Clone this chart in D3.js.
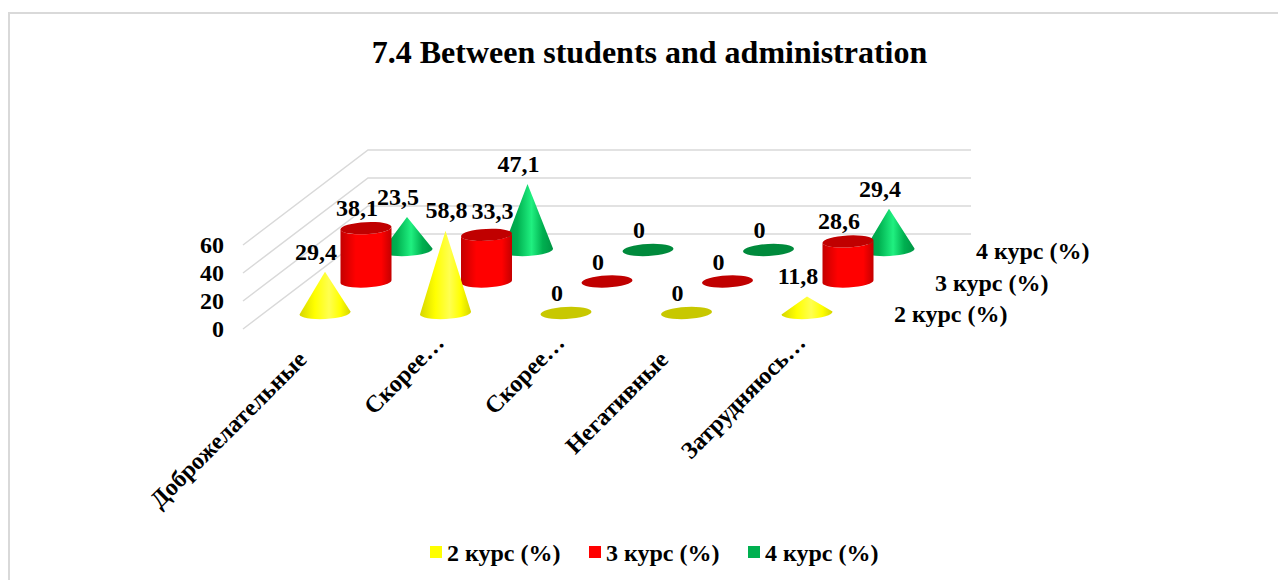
<!DOCTYPE html>
<html>
<head>
<meta charset="utf-8">
<script src="https://d3js.org/d3.v7.min.js"></script>
<style>
html, body { margin: 0; padding: 0; background: #fff; overflow: hidden; }
text { font-family: "Liberation Serif", "Times New Roman", serif; font-weight: bold; fill: #000; }
</style>
</head>
<body>
<svg id="chart" width="1278" height="580"></svg>
<script>
const categories = ['Доброжелательные', 'Скорее…', 'Скорее…', 'Негативные', 'Затрудняюсь…']
const seriesNames = ['2 курс (%)', '3 курс (%)', '4 курс (%)']
const course2 = [29.4, 58.8, 0, 0, 11.8]
const course3 = [38.1, 33.3, 0, 0, 28.6]
const course4 = [23.5, 47.1, 0, 0, 29.4]
const yTicks = [0, 20, 40, 60]

const svg = d3.select('#chart')
const defs = svg.append('defs')

// frame of the picture
svg.append('path')
    .attr('d', 'M9,580V13H1278')
    .attr('fill', 'none')
    .attr('stroke', '#d9d9d9')
    .attr('stroke-width', 2)

svg.append('text')
    .attr('x', 649.5)
    .attr('y', 63)
    .attr('text-anchor', 'middle')
    .style('font-size', '32px')
    .text('7.4 Between students and administration')

// fake 3d: x runs along the categories, the series go back along a diagonal
const xScale = d3.scalePoint().domain(d3.range(categories.length)).range([325, 807])
const depthX = d3.scalePoint().domain(seriesNames).range([0, 82])
const depthY = d3.scalePoint().domain(seriesNames).range([313, 250])
const heightScale = d3.scaleLinear().domain([0, 60]).range([0, 84])

// value axis at the front corner and the same scale on the back wall
const frontY = d3.scaleLinear().domain([0, 60]).range([329, 245])
const backY = d3.scaleLinear().domain([0, 60]).range([234, 150])

const grid = svg.append('g')
    .attr('fill', 'none')
    .attr('stroke', '#d9d9d9')
    .attr('stroke-width', 1.5)

yTicks.forEach(t => {
    grid.append('path')
        .attr('d', `M243,${frontY(t)}L368,${backY(t)}H971`)
})

svg.append('g')
    .attr('transform', 'translate(224,0)')
    .call(d3.axisLeft(frontY).tickValues(yTicks).tickSize(0).tickPadding(0))
    .call(g => g.select('.domain').remove())
    .selectAll('text')
    .attr('dy', '0.32em')
    .style('font-size', '24px')

const palette = [
    { edge: '#d6d600', mid: '#ffff00', shine: '#ffff50', flat: '#c8c800' },
    { edge: '#c40000', mid: '#ff0000', shine: '#ff0000', flat: '#c00000' },
    { edge: '#009444', mid: '#00b050', shine: '#20f080', flat: '#008a3c' }
]

palette.forEach((c, i) => {
    const grad = defs.append('linearGradient').attr('id', 'grad' + i)
    grad.append('stop').attr('offset', '0%').attr('stop-color', c.edge)
    grad.append('stop').attr('offset', '30%').attr('stop-color', c.mid)
    grad.append('stop').attr('offset', '58%').attr('stop-color', c.shine)
    grad.append('stop').attr('offset', '80%').attr('stop-color', c.mid)
    grad.append('stop').attr('offset', '100%').attr('stop-color', c.edge)
})

const rx = 25.5
const ry = 6
const tilt = 1.4

const conePath = (cx, cy, h) =>
    `M${cx - rx},${cy + tilt}A${rx},${ry} -3 0 0 ${cx + rx},${cy - tilt}L${cx},${cy - h}Z`

const cylinderPath = (cx, cy, h) =>
    `M${cx - rx},${cy + tilt}A${rx},${ry} -3 0 0 ${cx + rx},${cy - tilt}V${cy - tilt - h}` +
    `A${rx},${ry} -3 0 1 ${cx - rx},${cy + tilt - h}Z`

const drawSeries = (values, name, i, shape) => {
    const g = svg.append('g')
    values.forEach((v, k) => {
        const cx = xScale(k) + depthX(name)
        const cy = depthY(name)
        const h = heightScale(v)
        if (v === 0) {
            g.append('ellipse')
                .attr('cx', 0).attr('cy', 0)
                .attr('rx', rx).attr('ry', ry)
                .attr('transform', `translate(${cx},${cy}) rotate(-3)`)
                .attr('fill', palette[i].flat)
            return
        }
        g.append('path')
            .attr('d', shape === 'cone' ? conePath(cx, cy, h) : cylinderPath(cx, cy, h))
            .attr('fill', `url(#grad${i})`)
        if (shape === 'cylinder') {
            g.append('ellipse')
                .attr('cx', 0).attr('cy', 0)
                .attr('rx', rx).attr('ry', ry)
                .attr('transform', `translate(${cx},${cy - h}) rotate(-3)`)
                .attr('fill', palette[i].flat)
        }
    })
}

// back to front
drawSeries(course4, seriesNames[2], 2, 'cone')
drawSeries(course3, seriesNames[1], 1, 'cylinder')
drawSeries(course2, seriesNames[0], 0, 'cone')

// labels sit up and to the left of the marks, two were moved by hand in the original
const labelShift = { '2 курс (%)-1': [10, -1], '3 курс (%)-1': [15, -4] }

const drawLabels = (values, name) => {
    values.forEach((v, k) => {
        const cx = xScale(k) + depthX(name)
        const top = depthY(name) - heightScale(v)
        const shift = labelShift[name + '-' + k] || [0, 0]
        svg.append('text')
            .attr('x', cx - 9 + shift[0])
            .attr('y', top - 12 + shift[1])
            .attr('text-anchor', 'middle')
            .style('font-size', '24px')
            .text(String(v).replace('.', ','))
    })
}
drawLabels(course2, seriesNames[0])
drawLabels(course3, seriesNames[1])
drawLabels(course4, seriesNames[2])

// category labels, the cut ones end further along the diagonal
categories.forEach((c, k) => {
    svg.append('text')
        .attr('text-anchor', 'end')
        .attr('x', c.endsWith('…') ? 24 : 0)
        .attr('transform', `translate(${xScale(k) - 17},361) rotate(-45)`)
        .style('font-size', '24px')
        .text(c)
})

// series names along the depth axis
seriesNames.forEach(name => {
    svg.append('text')
        .attr('x', depthX(name) + 894)
        .attr('y', depthY(name) + 9)
        .style('font-size', '24px')
        .text(name)
})

// legend
const legendX = [430, 589, 748]
const legendColors = ['#ffff00', '#ff0000', '#00b050']
seriesNames.forEach((name, i) => {
    svg.append('rect')
        .attr('x', legendX[i]).attr('y', 546)
        .attr('width', 12).attr('height', 12)
        .attr('fill', legendColors[i])
    svg.append('text')
        .attr('x', legendX[i] + 17)
        .attr('y', 561)
        .style('font-size', '24px')
        .text(name)
})
</script>
</body>
</html>
